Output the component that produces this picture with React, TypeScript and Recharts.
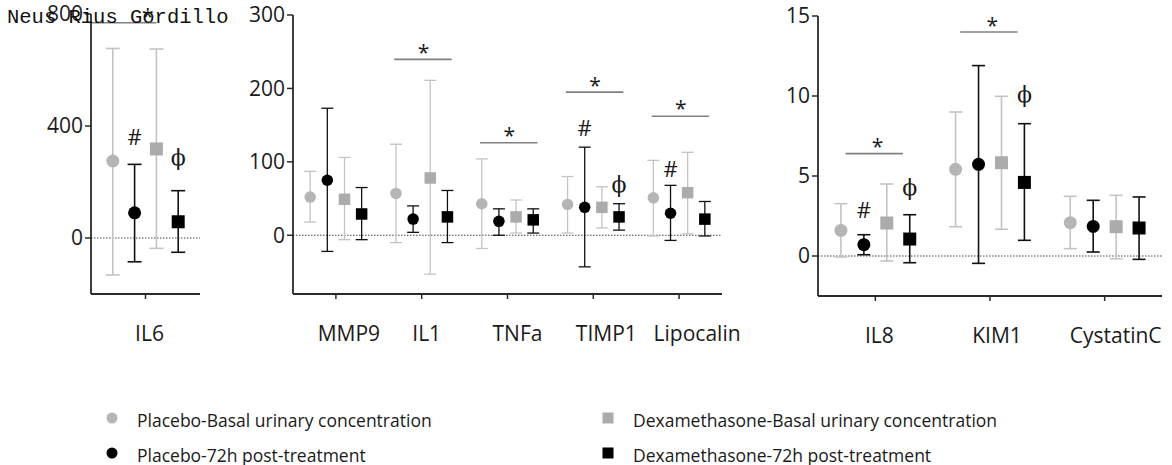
import React from 'react';
import { ScatterChart, Scatter, XAxis, YAxis, ErrorBar, ReferenceLine, ReferenceDot } from 'recharts';

// each point: [mean, bottom of error bar, top of error bar]
type Triple = [number, number, number];

const il6Cats = ['IL6'];
const il6PlaceboBasal: Triple[] = [[275, -132, 677]];
const il6Placebo72h: Triple[] = [[90, -85, 263]];
const il6DexaBasal: Triple[] = [[318, -37, 675]];
const il6Dexa72h: Triple[] = [[58, -51, 169]];

const midCats = ['MMP9', 'IL1', 'TNFa', 'TIMP1', 'Lipocalin'];
const midPlaceboBasal: Triple[] = [[52, 18, 87], [57, -10, 124], [43, -18, 104], [42, 3, 80], [51, -1, 102]];
const midPlacebo72h: Triple[] = [[75, -22, 173], [22, 4, 40], [19, 0, 36], [38, -43, 120], [30, -7, 68]];
const midDexaBasal: Triple[] = [[49, -6, 106], [78, -53, 211], [25, 3, 48], [38, 10, 66], [58, 2, 113]];
const midDexa72h: Triple[] = [[29, -6, 65], [25, -10, 61], [21, 3, 36], [25, 7, 43], [22, -1, 46]];

const kidCats = ['IL8', 'KIM1', 'CystatinC'];
const kidPlaceboBasal: Triple[] = [[1.6, -0.06, 3.27], [5.42, 1.83, 9.0], [2.08, 0.46, 3.73]];
const kidPlacebo72h: Triple[] = [[0.71, 0.08, 1.33], [5.73, -0.46, 11.9], [1.85, 0.25, 3.48]];
const kidDexaBasal: Triple[] = [[2.06, -0.31, 4.5], [5.83, 1.67, 9.98], [1.83, -0.17, 3.79]];
const kidDexa72h: Triple[] = [[1.06, -0.42, 2.58], [4.6, 0.98, 8.27], [1.75, -0.21, 3.69]];

const il6Ticks = [0, 400, 800];
const midTicks = [0, 100, 200, 300];
const kidTicks = [0, 5, 10, 15];

// significance bars: category, y of the line, y of the star
const il6Stars = [{ cat: 0, y: 769, star: 808 }];
const midStars = [
  { cat: 1, y: 239.5, star: 255 },
  { cat: 2, y: 126, star: 142 },
  { cat: 3, y: 195, star: 210 },
  { cat: 4, y: 162, star: 179 },
];
const kidStars = [
  { cat: 0, y: 6.4, star: 7.1 },
  { cat: 1, y: 14.0, star: 14.7 },
];

// '#' and 'ϕ' marks: category, series index, value
const il6Hash = [{ cat: 0, s: 1, y: 362 }];
const il6Phi = [{ cat: 0, s: 3, y: 281 }];
const midHash = [{ cat: 3, s: 1, y: 146 }, { cat: 4, s: 1, y: 90 }];
const midPhi = [{ cat: 3, s: 3, y: 67 }];
const kidHash = [{ cat: 0, s: 1, y: 2.85 }];
const kidPhi = [{ cat: 0, s: 3, y: 4.2 }, { cat: 1, s: 3, y: 10.0 }];

const SERIES = [
  { name: 'Placebo-Basal urinary concentration', square: false, fill: '#b5b5b5', err: '#c3c3c3', offset: -0.3 },
  { name: 'Placebo-72h post-treatment', square: false, fill: '#000000', err: '#111111', offset: -0.1 },
  { name: 'Dexamethasone-Basal urinary concentration', square: true, fill: '#ababab', err: '#c3c3c3', offset: 0.1 },
  { name: 'Dexamethasone-72h post-treatment', square: true, fill: '#000000', err: '#111111', offset: 0.3 },
];

const AXIS = '#2a2a2a';
const TEXT = '#1a1a1a';
const FONT = '"Open Sans", sans-serif';

interface PanelProps {
  left: number;
  width: number;
  height: number;
  top: number;
  yWidth: number;
  right: number;
  cats: string[];
  data: Triple[][];
  domain: [number, number];
  ticks: number[];
  size: number;
  cap: number;
  errWidth: number;
  labelDx: number[];
  stars: { cat: number; y: number; star: number }[];
  span: [number, number];
  hashes: { cat: number; s: number; y: number }[];
  phis: { cat: number; s: number; y: number }[];
}

function Panel(p: PanelProps) {
  const n = p.cats.length;
  const rows = p.data.map((ser, s) =>
    ser.map((t, i) => ({ x: i + SERIES[s].offset, y: t[0], err: [t[0] - t[1], t[2] - t[0]] }))
  );
  const half = p.size / 2;

  return (
    <div style={{ position: 'absolute', left: p.left, top: 0 }}>
      <ScatterChart width={p.width} height={p.height} margin={{ top: p.top, right: p.right, left: 0, bottom: 0 }}>
        <XAxis
          type="number"
          dataKey="x"
          domain={[-0.5, n - 0.5]}
          ticks={p.cats.map((_, i) => i)}
          interval={0}
          height={56}
          tickSize={5}
          axisLine={{ stroke: AXIS, strokeWidth: 1.8 }}
          tickLine={{ stroke: AXIS, strokeWidth: 1.5 }}
          tick={(t: any) => (
            <text x={t.x + (p.labelDx[t.payload.value] || 0)} y={t.y + 32} textAnchor="middle" dominantBaseline="central"
              fontSize={21} fontFamily={FONT} fill={TEXT}>
              {p.cats[t.payload.value]}
            </text>
          )}
        />
        <YAxis
          type="number"
          dataKey="y"
          domain={p.domain}
          ticks={p.ticks}
          interval={0}
          width={p.yWidth}
          tickSize={6}
          tickMargin={2}
          axisLine={{ stroke: AXIS, strokeWidth: 1.8 }}
          tickLine={{ stroke: AXIS, strokeWidth: 1.5 }}
          tick={{ fontSize: 21, fill: TEXT, fontFamily: FONT }}
        />
        <ReferenceLine y={0} stroke="#444" strokeDasharray="1.5 1.5" strokeWidth={1} />
        {p.stars.map((b, i) => (
          <ReferenceLine key={'b' + i} ifOverflow="visible" stroke="#808080" strokeWidth={1.6}
            segment={[{ x: b.cat + p.span[0], y: b.y }, { x: b.cat + p.span[1], y: b.y }]} />
        ))}
        {p.stars.map((b, i) => (
          <ReferenceDot key={'s' + i} x={b.cat + 0.02} y={b.star} r={0} ifOverflow="visible"
            shape={(d: any) => (
              <text x={d.cx} y={d.cy + 12} textAnchor="middle" fontSize={21} fontFamily={FONT} fill={TEXT}>*</text>
            )} />
        ))}
        {p.hashes.map((h, i) => (
          <ReferenceDot key={'h' + i} x={h.cat + SERIES[h.s].offset} y={h.y} r={0} ifOverflow="visible"
            shape={(d: any) => (
              <text x={d.cx} y={d.cy + 8} textAnchor="middle" fontSize={22} fontFamily={FONT} fill={TEXT}>#</text>
            )} />
        ))}
        {p.phis.map((h, i) => (
          <ReferenceDot key={'p' + i} x={h.cat + SERIES[h.s].offset} y={h.y} r={0} ifOverflow="visible"
            shape={(d: any) => (
              <text x={d.cx} y={d.cy + 6} textAnchor="middle" fontSize={22} fontFamily='"DejaVu Serif", serif' fill={TEXT}>ϕ</text>
            )} />
        ))}
        {rows.map((r, s) => (
          <Scatter
            key={s}
            name={SERIES[s].name}
            data={r}
            isAnimationActive={false}
            shape={(d: any) =>
              SERIES[s].square ? (
                <rect x={d.cx - half} y={d.cy - half} width={p.size} height={p.size} fill={SERIES[s].fill} />
              ) : (
                <circle cx={d.cx} cy={d.cy} r={half} fill={SERIES[s].fill} />
              )
            }
          >
            <ErrorBar dataKey="err" direction="y" width={p.cap} stroke={SERIES[s].err} strokeWidth={p.errWidth} isAnimationActive={false} />
          </Scatter>
        ))}
      </ScatterChart>
    </div>
  );
}

const legendRows = [
  { s: 0, x: 112, y: 418 },
  { s: 1, x: 112, y: 453 },
  { s: 2, x: 608, y: 418 },
  { s: 3, x: 608, y: 453 },
];

export default function App() {
  return (
    <div style={{ position: 'absolute', left: 0, top: 0, width: 1172, height: 465, background: '#fff', overflow: 'hidden' }}>
      <Panel left={0} width={210} height={350} top={14} yWidth={91} right={10}
        cats={il6Cats} data={[il6PlaceboBasal, il6Placebo72h, il6DexaBasal, il6Dexa72h]}
        domain={[-200, 800]} ticks={il6Ticks} size={13} cap={7} errWidth={1.6} labelDx={[4]}
        stars={il6Stars} span={[-0.5, 0.1]} hashes={il6Hash} phis={il6Phi} />
      <Panel left={220} width={520} height={350} top={15} yWidth={73} right={18}
        cats={midCats} data={[midPlaceboBasal, midPlacebo72h, midDexaBasal, midDexa72h]}
        domain={[-80, 300]} ticks={midTicks} size={11.5} cap={6} errWidth={1.3} labelDx={[13, 5, 10, 13, 18]}
        stars={midStars} span={[-0.32, 0.35]} hashes={midHash} phis={midPhi} />
      <Panel left={760} width={412} height={352} top={16} yWidth={58} right={10}
        cats={kidCats} data={[kidPlaceboBasal, kidPlacebo72h, kidDexaBasal, kidDexa72h]}
        domain={[-2.5, 15]} ticks={kidTicks} size={13} cap={6.5} errWidth={1.6} labelDx={[4, 7, 11]}
        stars={kidStars} span={[-0.26, 0.24]} hashes={kidHash} phis={kidPhi} />
      <svg width={1172} height={465} style={{ position: 'absolute', left: 0, top: 0, pointerEvents: 'none' }}>
        <text x={7} y={23} fontSize={20.5} fontFamily='"Liberation Mono", monospace' fill="#111">Neus Rius Gordillo</text>
        {legendRows.map((l) => (
          <g key={l.s}>
            {SERIES[l.s].square ? (
              <rect x={l.x - 5.5} y={l.y - 5.5} width={11} height={11} fill={SERIES[l.s].fill} />
            ) : (
              <circle cx={l.x} cy={l.y} r={5.5} fill={SERIES[l.s].fill} />
            )}
            <text x={l.x + 25} y={l.y + 8.5} fontSize={17.5} fontFamily={FONT} fill={TEXT}>{SERIES[l.s].name}</text>
          </g>
        ))}
      </svg>
    </div>
  );
}
